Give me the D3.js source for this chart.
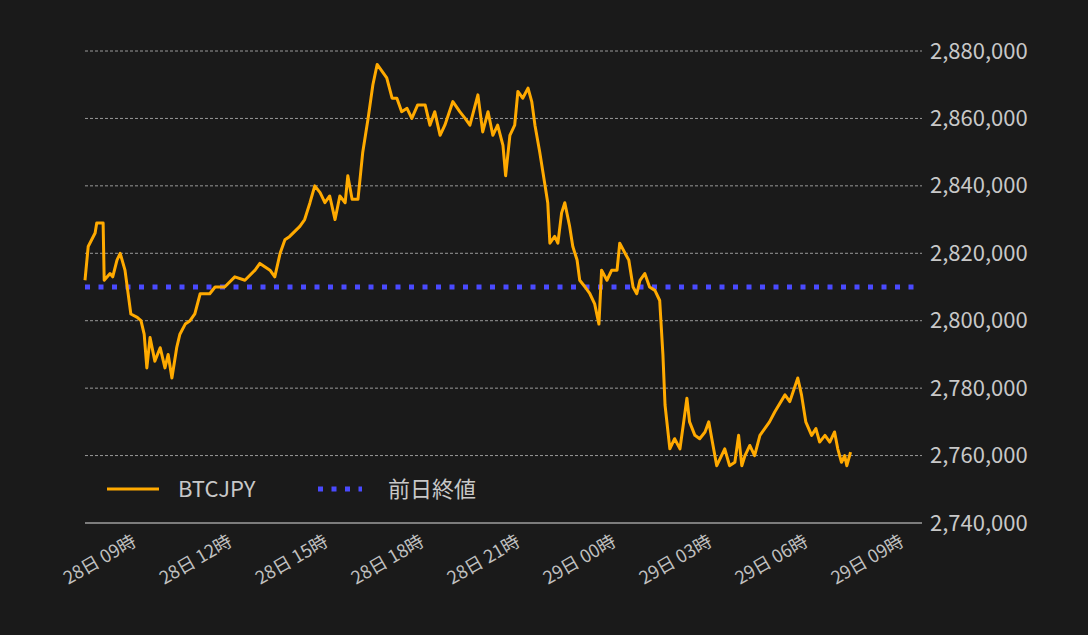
<!DOCTYPE html>
<html><head><meta charset="utf-8">
<script src="https://cdn.jsdelivr.net/npm/d3@7"></script>
<style>body{margin:0;background:#1a1a1a}svg{display:block}</style>
</head><body><svg id="c" width="1088" height="635"></svg>
<script>
// minutes since 28日 09:00
const minutes=[0,6,19,22,34,36,47,52,60,66,75,86,98,105,111,116,122,131,141,150,156,163,172,178,188,197,206,216,234,244,262,281,300,319,328,347,356,366,375,384,403,412,422,431,441,450,459,469,478,488,493,501,512,521,531,540,548,557,566,576,585,594,604,613,624,638,647,656,666,675,690,703,713,722,737,746,756,765,774,784,789,797,806,812,821,831,838,844,853,863,868,872,881,887,894,900,909,915,923,928,938,947,956,964,969,979,988,998,1003,1013,1020,1028,1035,1041,1050,1059,1069,1078,1084,1088,1097,1106,1116,1123,1129,1134,1144,1153,1163,1170,1178,1185,1194,1200,1209,1219,1226,1232,1238,1247,1256,1266,1275,1284,1294,1313,1322,1337,1344,1352,1363,1371,1378,1388,1397,1406,1412,1419,1425,1429,1436];
// price in thousand JPY
const prices=[2812,2822,2826,2829,2829,2812,2814,2813,2818,2820,2815,2802,2801,2800,2796,2786,2795,2788,2792,2786,2790,2783,2792,2796,2799,2800,2802,2808,2808,2810,2810,2813,2812,2815,2817,2815,2813,2820,2824,2825,2828,2830,2835,2840,2838,2835,2837,2830,2837,2835,2843,2836,2836,2850,2860,2870,2876,2874,2872,2866,2866,2862,2863,2860,2864,2864,2858,2862,2855,2858,2865,2862,2860,2858,2867,2856,2862,2855,2858,2852,2843,2855,2858,2868,2866,2869,2865,2858,2850,2840,2835,2823,2825,2823,2832,2835,2828,2822,2818,2812,2810,2808,2805,2799,2815,2812,2815,2815,2823,2820,2818,2810,2808,2812,2814,2810,2809,2806,2790,2775,2762,2765,2762,2770,2777,2770,2766,2765,2767,2770,2763,2757,2760,2762,2757,2758,2766,2757,2760,2763,2760,2766,2768,2770,2773,2778,2776,2783,2778,2770,2766,2768,2764,2766,2764,2767,2762,2758,2760,2757,2761];
const prevClose=2810000;
const yTicks=[2740000,2760000,2780000,2800000,2820000,2840000,2860000,2880000];
const xTickLabels=["28日 09時","28日 12時","28日 15時","28日 18時","28日 21時","29日 00時","29日 03時","29日 06時","29日 09時"];
const xTickMinutes=[0,180,360,540,720,900,1080,1260,1440];

const svg=d3.select("#c");
const L=85,R=922,T=51,B=523;
const x=d3.scaleLinear().domain([0,1570]).range([L,R]);
const y=d3.scaleLinear().domain([2740000,2880000]).range([B,T]);
const font="'Noto Sans CJK JP','Noto Sans',sans-serif";
svg.append("rect").attr("width",1088).attr("height",635).attr("fill","#1a1a1a");

svg.append("g").selectAll("line").data(yTicks.slice(1)).join("line")
 .attr("x1",L).attr("x2",R).attr("y1",d=>y(d)).attr("y2",d=>y(d))
 .attr("stroke","#bbb").attr("stroke-width",0.8).attr("stroke-dasharray","3,2");
svg.append("line").attr("x1",L).attr("x2",R).attr("y1",B).attr("y2",B).attr("stroke","#ddd").attr("stroke-width",1.2);

const ya=svg.append("g").attr("transform",`translate(${R},0)`)
 .call(d3.axisRight(y).tickValues(yTicks).tickFormat(d3.format(",")).tickSize(0).tickPadding(8));
ya.select(".domain").remove();
ya.selectAll("text").attr("fill","#c8c8c8").attr("font-size",22).attr("font-family",font);

const xa=svg.append("g").attr("transform",`translate(0,${B})`)
 .call(d3.axisBottom(x).tickValues(xTickMinutes).tickFormat((d,i)=>xTickLabels[i]).tickSize(0).tickPadding(0));
xa.select(".domain").remove();
xa.selectAll("text").attr("fill","#c0c0c0").attr("font-size",18).attr("font-family",font)
 .attr("text-anchor","end").attr("dy",0).attr("transform","translate(52,22) rotate(-30)");

svg.append("line").attr("x1",L).attr("x2",R).attr("y1",y(prevClose)).attr("y2",y(prevClose))
 .attr("stroke","#4a4aff").attr("stroke-width",5).attr("stroke-dasharray","5,8.5");

const data=minutes.map((m,i)=>[m,prices[i]*1000]);
svg.append("path").datum(data).attr("fill","none").attr("stroke","#ffaa00").attr("stroke-width",3)
 .attr("stroke-linejoin","round").attr("d",d3.line().x(d=>x(d[0])).y(d=>y(d[1])));

const lg=svg.append("g");
lg.append("line").attr("x1",107).attr("x2",159).attr("y1",489).attr("y2",489).attr("stroke","#ffaa00").attr("stroke-width",3);
lg.append("text").attr("x",178).attr("y",497).text("BTCJPY").attr("fill","#c8c8c8").attr("font-size",22).attr("font-family",font);
lg.append("line").attr("x1",318).attr("x2",362).attr("y1",489).attr("y2",489).attr("stroke","#4a4aff").attr("stroke-width",5).attr("stroke-dasharray","5,8.5");
lg.append("text").attr("x",388).attr("y",497).text("前日終値").attr("fill","#c8c8c8").attr("font-size",22).attr("font-family",font);
</script></body></html>
